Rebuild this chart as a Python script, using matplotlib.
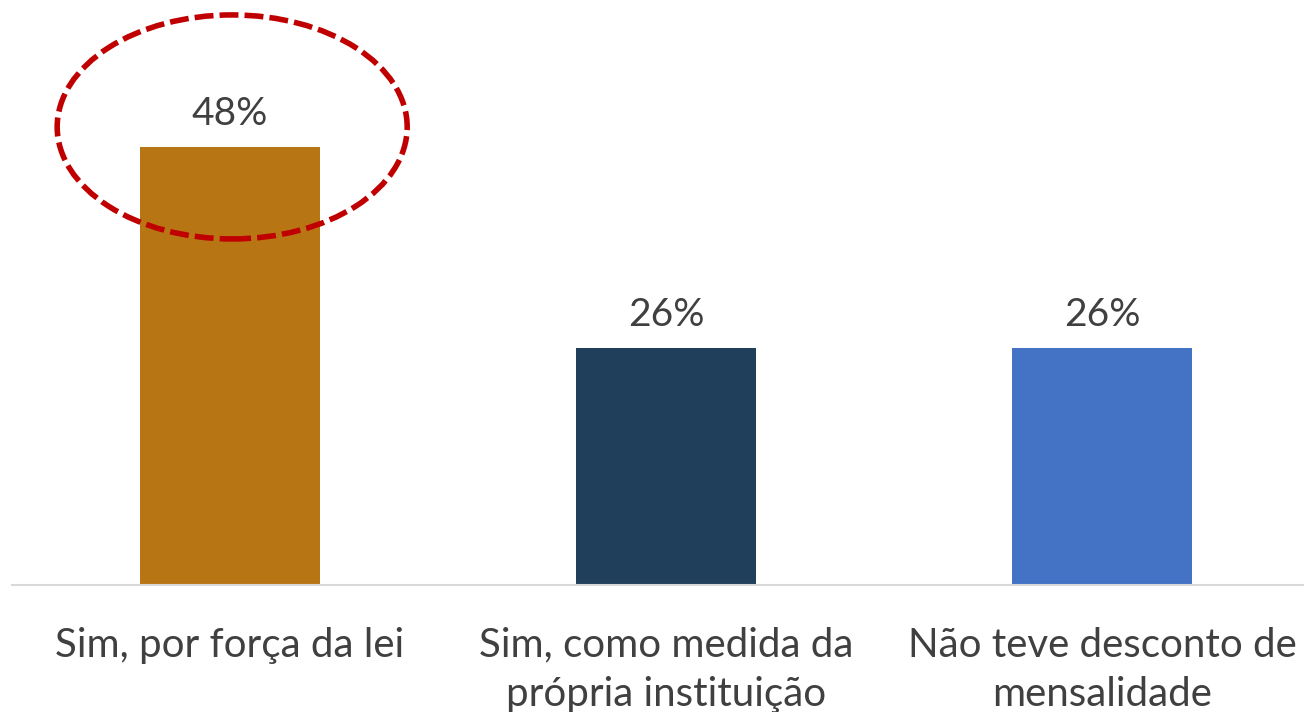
import matplotlib
matplotlib.use('Agg')
import matplotlib.pyplot as plt
from matplotlib.patches import Ellipse
import numpy as np

categories = ['Sim, por força da lei',
              'Sim, como medida da\nprópria instituição',
              'Não teve desconto de\nmensalidade']
values = [48, 26, 26]
colors = ['#B87514', '#1F3F5B', '#4472C4']

plt.rcParams['font.family'] = ['Lato', 'DejaVu Sans']

fig = plt.figure(figsize=(13.04, 7.12), dpi=100)
# axes spans a bit past the right edge, like the original slide crop
ax = fig.add_axes([12 / 1304, 127 / 712, 1308 / 1304, 547.5 / 712])

x = np.arange(len(categories))
ax.bar(x, values, width=0.413, color=colors, zorder=2)
ax.set_xlim(-0.5, 2.5)
ax.set_ylim(0, 60)

for xi, v in zip(x, values):
    ax.text(xi, v + 1.6, '{}%'.format(v), ha='center', va='bottom',
            fontsize=28, color='#404040')

ax.set_xticks(x)
ax.set_xticklabels(categories, fontsize=29, color='#404040', linespacing=1.4)
ax.tick_params(axis='x', length=0, pad=30)
ax.set_yticks([])
for side in ['top', 'right', 'left']:
    ax.spines[side].set_visible(False)
ax.spines['bottom'].set_color('#D9D9D9')
ax.spines['bottom'].set_linewidth(1.5)

# dashed highlight around the first bar's label
ell = Ellipse((0.005, 50.2), width=350 / 436, height=224 / 9.125,
              fill=False, edgecolor='#C00000', linewidth=4,
              linestyle=(0, (3.4, 1.1)), zorder=3, clip_on=False)
ax.add_patch(ell)

fig.savefig('out.png', dpi=100)
